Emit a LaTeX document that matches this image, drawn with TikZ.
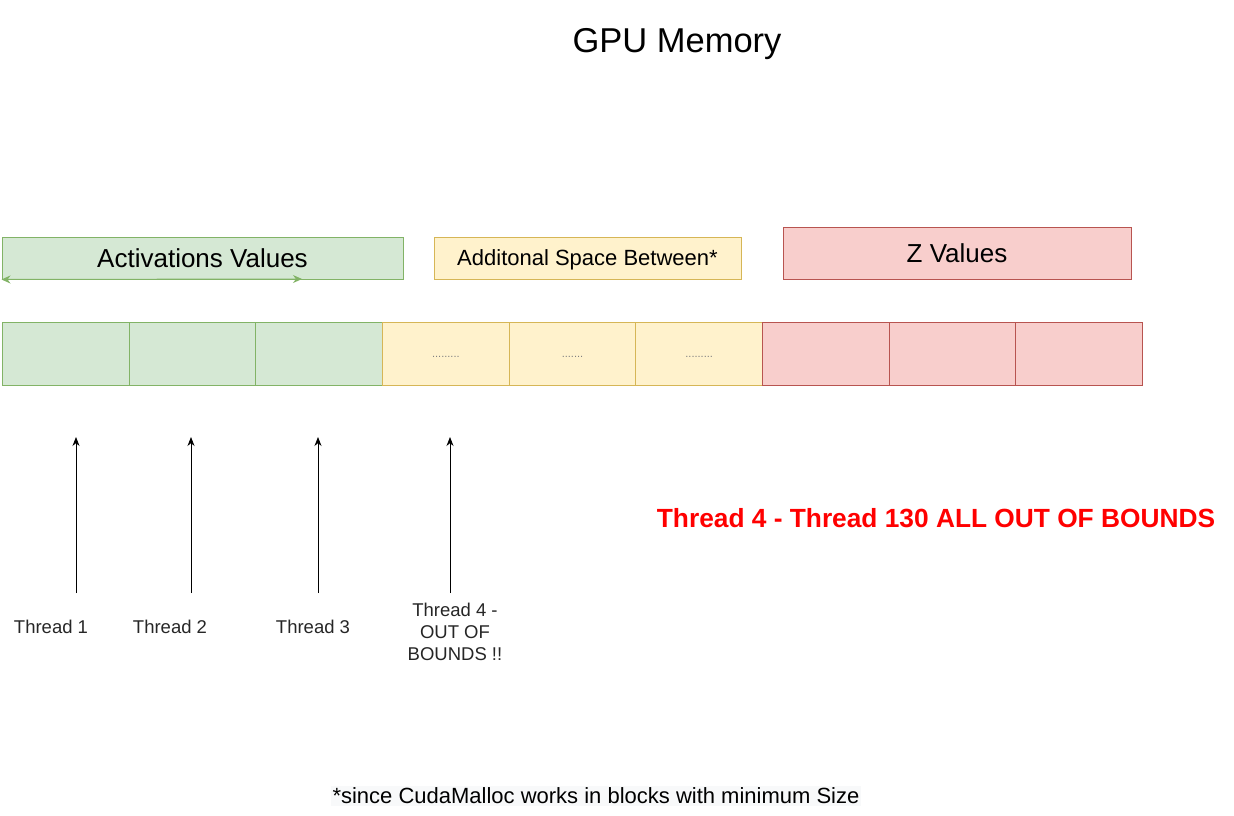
\documentclass[tikz,border=0pt]{standalone}
\usepackage{fontspec}
\setmainfont{Liberation Sans}
\usetikzlibrary{positioning,arrows.meta}

\definecolor{actfill}{HTML}{D5E8D4}
\definecolor{actline}{HTML}{82B366}
\definecolor{padfill}{HTML}{FFF2CC}
\definecolor{padline}{HTML}{D6B656}
\definecolor{zfill}{HTML}{F8CECC}
\definecolor{zline}{HTML}{B85450}
\definecolor{notefill}{HTML}{F8F9FA}
\definecolor{oobred}{HTML}{FF0000}

\tikzset{
  actcell/.style={draw=actline, fill=actfill},
  padcell/.style={draw=padline, fill=padfill},
  zcell/.style={draw=zline, fill=zfill},
  memcell/.style={minimum width=126.67pt, minimum height=63pt, inner sep=0pt, anchor=west},
  threadlabel/.style={font=\fontsize{18.5}{22}\selectfont, align=center, text=black!85},
  threadarrow/.style={-{Stealth[length=9pt,width=7pt]}, line width=0.8pt}
}

\begin{document}
\begin{tikzpicture}[x=1pt, y=-1pt, line width=1pt]
        \useasboundingbox (0,0) rectangle (1234,815);

        % Title
        \node (title) at (677,44) {\fontsize{34.5}{40}\selectfont GPU Memory};

        % Legend boxes
        \node[actcell, minimum width=401pt, minimum height=42pt, font=\fontsize{26}{31}\selectfont] (act) at (202.5,258) {Activations Values};
        \node[padcell, minimum width=307pt, minimum height=42pt, text depth=0pt, font=\fontsize{22}{26}\selectfont] (pad) at (587.5,258) {Additonal Space Between*};
        \node[zcell, minimum width=348pt, minimum height=52pt, font=\fontsize{26}{31}\selectfont] (zval) at (957,253) {Z Values};

        % Span of the activations
        \coordinate (actend) at (302,279);
        \draw[{Stealth[length=9pt,width=8pt]}-{Stealth[length=9pt,width=8pt]}, draw=actline, fill=actline] (act.south west) -- (actend);

        % Memory cells
        \foreach \i/\st/\txt in {0/actcell/{},1/actcell/{},2/actcell/{},3/padcell/{.........},4/padcell/{.......},5/padcell/{.........},6/zcell/{},7/zcell/{},8/zcell/{}}
          \node[memcell, \st, text=gray, text height=8pt, text depth=0pt, font=\fontsize{11}{13}\selectfont] (cell\i) at (2+\i*126.67,353.5) {\txt};

        % Threads
        \coordinate (a1) at (76,593);   \coordinate (h1) at (76,437);
        \coordinate (a2) at (191,593);  \coordinate (h2) at (191,437);
        \coordinate (a3) at (318,593);  \coordinate (h3) at (318,437);
        \coordinate (a4) at (450,593);  \coordinate (h4) at (450,437);
        \foreach \k in {1,...,4}
          \draw[threadarrow] (a\k) -- (h\k);

        \node[threadlabel] (t1) at (51,627) {Thread 1};
        \node[threadlabel] (t2) at (170,627) {Thread 2};
        \node[threadlabel] (t3) at (313,627) {Thread 3};
        \node[threadlabel] (t4) at (455,632) {Thread 4 -\\OUT OF\\BOUNDS !!};

        % Out of bounds note
        \node[text=oobred, font=\fontsize{26.3}{31}\bfseries\selectfont] (oob) at (936,518) {Thread 4 - Thread 130 ALL OUT OF BOUNDS};

        % Footnote
        \node[fill=notefill, inner sep=2pt, font=\fontsize{22}{26}\selectfont] (note) at (596,796) {*since CudaMalloc works in blocks with minimum Size};
    \end{tikzpicture}
\end{document}
